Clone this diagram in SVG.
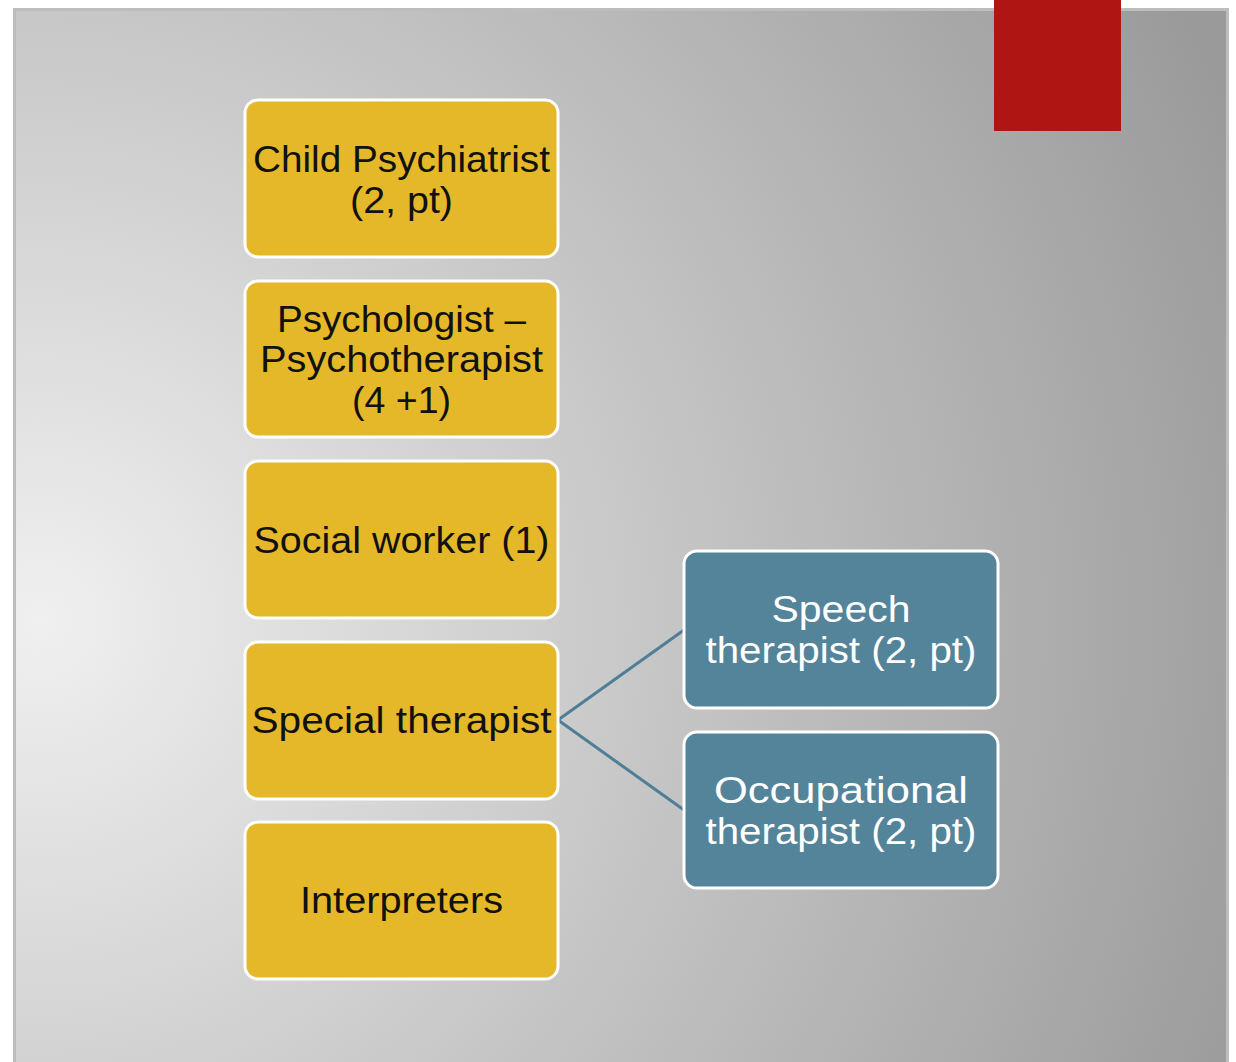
<svg xmlns="http://www.w3.org/2000/svg" width="1236" height="1062" viewBox="0 0 1236 1062">
<defs>
<radialGradient id="bg" gradientUnits="userSpaceOnUse" cx="40" cy="620" r="1300">
<stop offset="0" stop-color="#f0f0f0"/>
<stop offset="0.5" stop-color="#c4c4c4"/>
<stop offset="1" stop-color="#9a9a9a"/>
</radialGradient>
<style>
.y{fill:#e5b82a;stroke:#ffffff;stroke-width:3}
.b{fill:#54849a;stroke:#ffffff;stroke-width:3}
.t{font-family:"Liberation Sans",Arial,sans-serif;font-size:37px;text-anchor:middle}
.tk{fill:#111111}
.tw{fill:#ffffff}
.c{stroke:#4f7f96;stroke-width:3;fill:none}
</style>
</defs>
<rect x="0" y="0" width="1236" height="1062" fill="#ffffff"/>
<rect x="13" y="8" width="1216" height="1060" fill="#bdbdbd"/>
<rect x="16" y="11" width="1210" height="1060" fill="url(#bg)"/>
<rect x="994" y="0" width="127" height="131" fill="#ae1513"/>
<g id="connectors">
<line class="c" x1="558" y1="720" x2="684" y2="630"/>
<line class="c" x1="558" y1="720" x2="684" y2="810"/>
</g>
<g id="child-psychiatrist">
<rect class="y" x="245" y="100" width="313" height="157" rx="13"/>
<text class="t tk" x="401.5" y="172" textLength="297" lengthAdjust="spacingAndGlyphs">Child Psychiatrist</text>
<text class="t tk" x="401.5" y="213" textLength="103" lengthAdjust="spacingAndGlyphs">(2, pt)</text>
</g>
<g id="psychologist">
<rect class="y" x="245" y="281" width="313" height="156" rx="13"/>
<text class="t tk" x="401.5" y="332" textLength="249" lengthAdjust="spacingAndGlyphs">Psychologist –</text>
<text class="t tk" x="401.5" y="372" textLength="283" lengthAdjust="spacingAndGlyphs">Psychotherapist</text>
<text class="t tk" x="401.5" y="413" textLength="99" lengthAdjust="spacingAndGlyphs">(4 +1)</text>
</g>
<g id="social-worker">
<rect class="y" x="245" y="461" width="313" height="157" rx="13"/>
<text class="t tk" x="401.5" y="553" textLength="296" lengthAdjust="spacingAndGlyphs">Social worker (1)</text>
</g>
<g id="special-therapist">
<rect class="y" x="245" y="642" width="313" height="157" rx="13"/>
<text class="t tk" x="401.5" y="733" textLength="300" lengthAdjust="spacingAndGlyphs">Special therapist</text>
</g>
<g id="interpreters">
<rect class="y" x="245" y="822" width="313" height="157" rx="13"/>
<text class="t tk" x="401.5" y="913" textLength="203" lengthAdjust="spacingAndGlyphs">Interpreters</text>
</g>
<g id="speech-therapist">
<rect class="b" x="684" y="551" width="314" height="157" rx="13"/>
<text class="t tw" x="841" y="622" textLength="139" lengthAdjust="spacingAndGlyphs">Speech</text>
<text class="t tw" x="841" y="663" textLength="271" lengthAdjust="spacingAndGlyphs">therapist (2, pt)</text>
</g>
<g id="occupational-therapist">
<rect class="b" x="684" y="732" width="314" height="156" rx="13"/>
<text class="t tw" x="841" y="803" textLength="254" lengthAdjust="spacingAndGlyphs">Occupational</text>
<text class="t tw" x="841" y="844" textLength="271" lengthAdjust="spacingAndGlyphs">therapist (2, pt)</text>
</g>
</svg>
